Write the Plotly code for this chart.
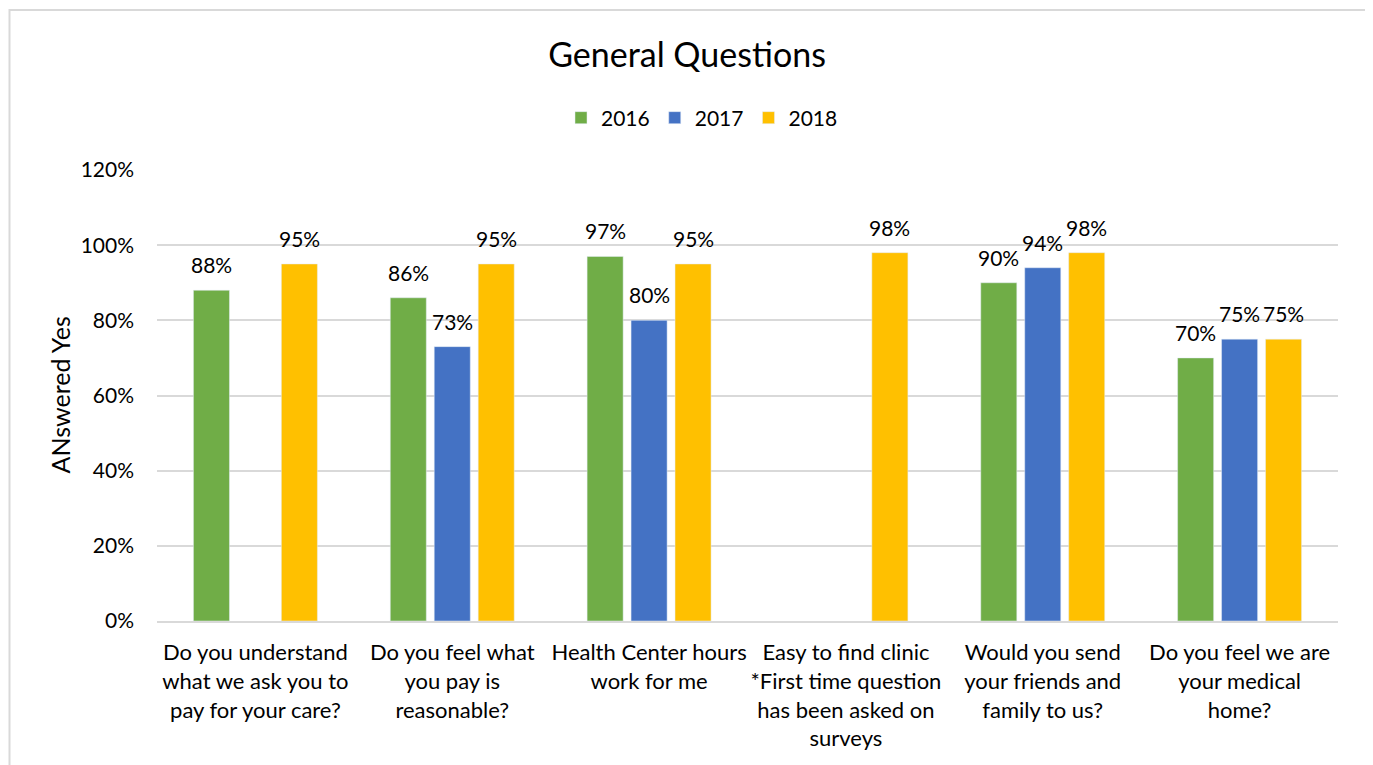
import plotly.graph_objects as go

categories = [
    "Do you understand<br>what we ask you to<br>pay for your care?",
    "Do you feel what<br>you pay is<br>reasonable?",
    "Health Center hours<br>work for me",
    "Easy to find clinic<br>*First time question<br>has been asked on<br>surveys",
    "Would you send<br>your friends and<br>family to us?",
    "Do you feel we are<br>your medical<br>home?",
]
series_names = ["2016", "2017", "2018"]
v2016 = [0.88, 0.86, 0.97, None, 0.90, 0.70]
v2017 = [None, 0.73, 0.80, None, 0.94, 0.75]
v2018 = [0.95, 0.95, 0.95, 0.98, 0.98, 0.75]
colors = ["#70AD47", "#4472C4", "#FFC000"]

FONT = "Lato, 'Open Sans', sans-serif"

W, H = 1373, 765
OFF = 8  # page body margin offset
# target screen positions
L_s, R_s, T_s, B_s = 157, 1338, 170, 621
L, T = L_s - OFF, T_s - OFF
pw, ph = R_s - L_s, B_s - T_s
R = W - L - pw
B = H - T - ph

fig = go.Figure()
for name, vals, col in zip(series_names, [v2016, v2017, v2018], colors):
    fig.add_trace(go.Bar(
        name=name, x=categories, y=vals, marker_color=col,
        offsetgroup=name,
    ))

# data labels placed from the data values
annotations = []
offsets = {"2016": -1, "2017": 0, "2018": 1}
for name, vals in zip(series_names, [v2016, v2017, v2018]):
    for i, v in enumerate(vals):
        if v is None:
            continue
        annotations.append(dict(
            x=i, y=v, xref="x", yref="y", text=f"{round(v * 100)}%",
            showarrow=False, yanchor="bottom", xanchor="center",
            xshift=offsets[name] * 196.8 * 0.67 / 3, yshift=11,
            font=dict(size=21, family=FONT, color="#000000"),
        ))

annotations.append(dict(text="ANswered Yes", textangle=-90, xref="paper", yref="paper",
                        x=(59 - L_s) / pw, y=0.5, xanchor="center", yanchor="middle",
                        showarrow=False, font=dict(size=25, family=FONT, color="#000000")))

fig.update_layout(
    width=W, height=H,
    margin=dict(l=L, r=R, t=T, b=B),
    paper_bgcolor="white", plot_bgcolor="white",
    barmode="group", bargap=0.33, bargroupgap=0.18,
    font=dict(family=FONT, size=21, color="#000000"),
    title=dict(text="General Questions", x=(687 - OFF) / W, xref="container", xanchor="center",
               y=1 - (55 - OFF) / H, yref="container", yanchor="middle",
               font=dict(size=34, family=FONT, color="#000000")),
    legend=dict(orientation="h", xref="container", x=(702 - OFF) / W, xanchor="center",
                yref="container", y=1 - (118 - OFF) / H, yanchor="middle",
                font=dict(size=21, family=FONT), itemwidth=30, traceorder="normal",
                tracegroupgap=0),
    showlegend=True,
    xaxis=dict(showline=True, linecolor="#D9D9D9", linewidth=2, ticks="",
               tickfont=dict(size=22, family=FONT), ticklabelstandoff=11),
    yaxis=dict(range=[0, 1.2], dtick=0.2, tickformat=".0%", showgrid=True,
               gridcolor="#D9D9D9", gridwidth=1.5, zeroline=False, showline=False,
               ticks="", tickfont=dict(size=21, family=FONT), ticklabelstandoff=22),
    annotations=annotations,
    shapes=[dict(type="rect", xref="paper", yref="paper",
                 x0=(OFF + 1.5 - L_s) / pw, x1=(1366 - L_s) / pw,
                 y0=(B_s - 800) / ph, y1=(B_s - 10) / ph,
                 line=dict(color="#D9D9D9", width=2), fillcolor="rgba(0,0,0,0)", layer="below")],
)

fig.write_html("out.html")
